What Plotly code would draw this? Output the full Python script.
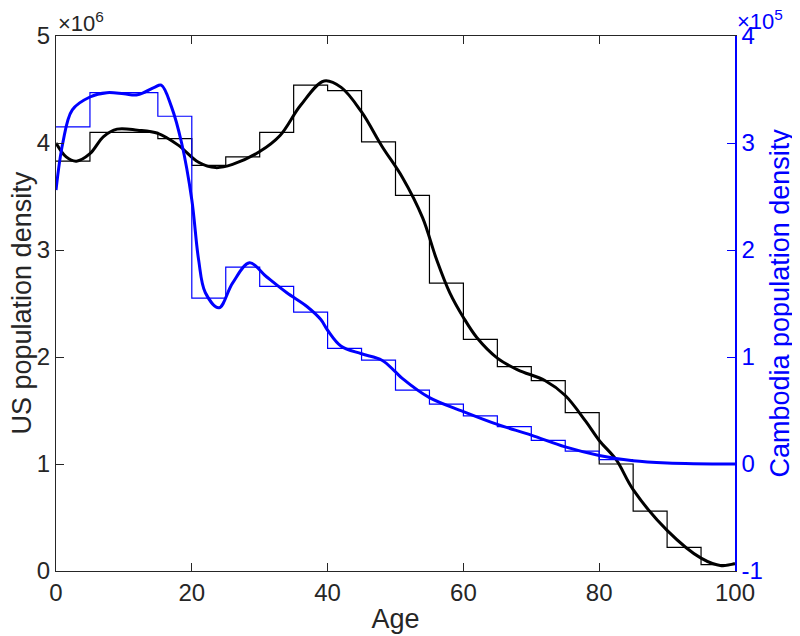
import plotly.graph_objects as go

# bin edges (age, 5-year bins)
us_edges = [0, 5, 10, 15, 20, 25, 30, 35, 40, 45, 50, 55, 60, 65, 70, 75, 80, 85, 90, 95, 100]
us_hist = [3.83, 4.10, 4.10, 4.04, 3.79, 3.87, 4.10, 4.54, 4.49, 4.01, 3.51, 2.69,
           2.165, 1.91, 1.78, 1.48, 1.00, 0.56, 0.22, 0.06]  # x1e6

kh_edges = [0, 5, 10, 15, 20, 25, 30, 35, 40, 45, 50, 55, 60, 65, 70, 75, 80, 85]
kh_hist = [3.15, 3.47, 3.47, 3.25, 1.55, 1.84, 1.66, 1.42, 1.08, 0.97, 0.69, 0.56,
           0.45, 0.35, 0.22, 0.12, 0.04]  # x1e5

# smoothed density curves
us_age = [0, 1.5, 3, 5, 7, 9, 12, 15, 18, 21, 23.5, 26, 30, 33, 36, 39.5, 42, 45, 48,
          51, 54, 56, 58, 60, 62, 65, 68, 72, 75, 78, 80, 82.5, 85, 90, 95, 98, 100]
us_smooth = [4.00, 3.87, 3.83, 3.90, 4.06, 4.13, 4.12, 4.09, 3.98, 3.82, 3.77, 3.80,
             3.92, 4.07, 4.35, 4.58, 4.52, 4.29, 3.97, 3.68, 3.30, 2.92, 2.60, 2.37,
             2.18, 1.99, 1.88, 1.78, 1.64, 1.40, 1.22, 1.04, 0.76, 0.38, 0.12, 0.05, 0.07]

kh_age = [0, 1, 2.4, 5, 7.5, 10, 12, 14.5, 15.5, 17, 18.5, 20, 21, 22, 24, 26, 28.5,
          31, 34, 37, 39, 40, 42, 45, 48, 50, 51, 55, 60, 65, 70, 75, 80, 85, 90, 100]
kh_smooth = [2.56, 3.00, 3.31, 3.43, 3.47, 3.46, 3.45, 3.52, 3.54, 3.34, 3.00, 2.47,
             1.91, 1.60, 1.46, 1.69, 1.88, 1.75, 1.60, 1.47, 1.35, 1.25, 1.10, 1.03,
             0.97, 0.86, 0.80, 0.62, 0.49, 0.37, 0.27, 0.16, 0.08, 0.03, 0.01, 0.0]

x_ticks = [0, 20, 40, 60, 80, 100]
us_ticks = [0, 1, 2, 3, 4, 5]
kh_ticks = [-1, 0, 1, 2, 3, 4]

dark = "#262626"
blue = "#0000FF"
font = "Liberation Sans, Arial, sans-serif"

fig = go.Figure()

# step outlines
fig.add_trace(go.Scatter(
    x=us_edges, y=us_hist + [us_hist[-1]], mode="lines", line_shape="hv",
    line=dict(color="black", width=1.2), showlegend=False, hoverinfo="skip"
))
fig.add_trace(go.Scatter(
    x=kh_edges, y=kh_hist + [kh_hist[-1]], mode="lines", line_shape="hv",
    line=dict(color=blue, width=1.2), showlegend=False, hoverinfo="skip", yaxis="y2"
))

# smooth curves
fig.add_trace(go.Scatter(
    x=us_age, y=us_smooth, mode="lines", line_shape="spline",
    line=dict(color="black", width=3, smoothing=1), showlegend=False
))
fig.add_trace(go.Scatter(
    x=kh_age, y=kh_smooth, mode="lines", line_shape="spline",
    line=dict(color=blue, width=3, smoothing=1), showlegend=False, yaxis="y2"
))

# page body has an 8px margin, so the figure is 8px smaller than the window
fig.update_layout(
    width=792, height=628,
    margin=dict(l=48, r=65, t=28, b=65),
    plot_bgcolor="white", paper_bgcolor="white",
    font=dict(family=font, size=24, color=dark),
    xaxis=dict(
        range=[0, 100], tickvals=x_ticks, ticks="inside", ticklen=8,
        tickcolor=dark, showline=True, linecolor=dark, linewidth=1.2,
        mirror="ticks", showgrid=False, zeroline=False, automargin=False,
        title=dict(text="Age", font=dict(size=27), standoff=4),
    ),
    yaxis=dict(
        range=[0, 5], tickvals=us_ticks, ticks="inside", ticklen=8,
        tickcolor=dark, showline=True, linecolor=dark, linewidth=1.2,
        showgrid=False, zeroline=False, automargin=False,
    ),
    yaxis2=dict(
        range=[-1, 4], tickvals=kh_ticks, ticktext=[str(t) for t in kh_ticks],
        overlaying="y", side="right", ticks="inside", ticklen=8,
        tickcolor=blue, showline=True, linecolor=blue, linewidth=1.5,
        showgrid=False, zeroline=False, tickfont=dict(color=blue), automargin=False,
    ),
    annotations=[
        # axis titles
        dict(text="US population density", xref="paper", yref="paper", x=0, y=0.5,
             xanchor="center", yanchor="middle", xshift=-35, textangle=-90,
             showarrow=False, font=dict(size=27, color=dark)),
        dict(text="Cambodia population density", xref="paper", yref="paper", x=1, y=0.5,
             xanchor="center", yanchor="middle", xshift=44, textangle=-90,
             showarrow=False, font=dict(size=27, color=blue)),
        # exponent labels
        dict(text="×10<sup>6</sup>", xref="paper", yref="paper", x=0, y=1,
             xanchor="left", yanchor="bottom", yshift=-2, showarrow=False,
             font=dict(size=22, color=dark)),
        dict(text="×10<sup>5</sup>", xref="paper", yref="paper", x=1, y=1,
             xanchor="left", yanchor="bottom", xshift=0, yshift=0, showarrow=False,
             font=dict(size=22, color=blue)),
    ],
)

fig.write_html("out.html")
